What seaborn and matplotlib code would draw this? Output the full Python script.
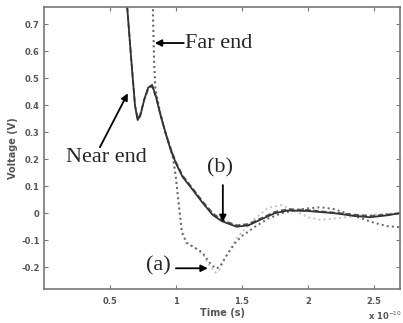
import matplotlib
matplotlib.use("Agg")
import matplotlib.pyplot as plt
import seaborn as sns
import pandas as pd

# near-end waveforms, case (b)  (time in units of 1e-10 s)
near_t = [0.60, 0.63, 0.66, 0.69, 0.71, 0.73, 0.76, 0.79, 0.82, 0.85, 0.88, 0.92, 0.96,
          1.00, 1.05, 1.13, 1.20, 1.28, 1.35, 1.46, 1.55, 1.65, 1.75, 1.85, 2.00, 2.20,
          2.35, 2.47, 2.60, 2.70]
near_sim = [0.92, 0.77, 0.58, 0.40, 0.345, 0.36, 0.42, 0.465, 0.475, 0.43, 0.37, 0.30, 0.235,
            0.185, 0.135, 0.085, 0.04, -0.007, -0.03, -0.05, -0.045, -0.022, 0.0, 0.01, 0.008, 0.0,
            -0.01, -0.015, -0.008, 0.0]
near_meas = [0.92, 0.77, 0.58, 0.40, 0.35, 0.365, 0.42, 0.46, 0.47, 0.43, 0.37, 0.30, 0.24,
             0.19, 0.14, 0.09, 0.045, 0.0, -0.025, -0.045, -0.04, -0.018, 0.005, 0.015, 0.012, 0.002,
             -0.005, -0.01, -0.005, 0.0]

# far-end waveforms, case (a)
far_t = [0.80, 0.825, 0.835, 0.845, 0.88, 0.92, 0.96, 0.98, 1.00, 1.02, 1.045, 1.08, 1.15,
         1.20, 1.25, 1.30, 1.33, 1.38, 1.45, 1.50, 1.60, 1.70, 1.80, 1.90, 2.00, 2.10, 2.20,
         2.35, 2.50, 2.60, 2.70]
far_sim = [0.95, 0.77, 0.56, 0.46, 0.375, 0.30, 0.24, 0.20, 0.13, 0.04, -0.07, -0.11, -0.13,
           -0.145, -0.18, -0.205, -0.20, -0.16, -0.11, -0.085, -0.05, -0.02, 0.0, 0.01, 0.018, 0.022, 0.015,
           -0.01, -0.035, -0.048, -0.052]
far_meas = [0.95, 0.77, 0.56, 0.46, 0.375, 0.30, 0.24, 0.20, 0.14, 0.05, -0.06, -0.105, -0.13,
            -0.15, -0.19, -0.22, -0.21, -0.16, -0.10, -0.07, -0.02, 0.02, 0.03, 0.01, -0.015, -0.025, -0.02,
            -0.012, -0.005, -0.002, 0.0]

xticks = [0.5, 1, 1.5, 2, 2.5]
xticklabels = ['0.5', '1', '1.5', '2', '2.5']
yticks = [-0.2, -0.1, 0, 0.1, 0.2, 0.3, 0.4, 0.5, 0.6, 0.7]
yticklabels = ['-0.2', '-0.1', '0', '0.1', '0.2', '0.3', '0.4', '0.5', '0.6', '0.7']

sns.set_style('ticks')
plt.rcParams['font.family'] = ['DejaVu Sans']

fig = plt.figure(figsize=(4.03, 3.23), dpi=100)
ax = fig.add_axes([0.109, 0.105, 0.884, 0.873])

near_df = pd.DataFrame({'t': near_t, 'sim': near_sim, 'meas': near_meas})
far_df = pd.DataFrame({'t': far_t, 'sim': far_sim, 'meas': far_meas})

# far end curves drawn first, near end on top
sns.lineplot(data=far_df, x='t', y='meas', ax=ax, color='#c4c4c4', lw=1.4, linestyle=':', sort=False)
sns.lineplot(data=far_df, x='t', y='sim', ax=ax, color='#666666', lw=1.4, linestyle=':', sort=False)
sns.lineplot(data=near_df, x='t', y='meas', ax=ax, color='#5a5a5a', lw=1.3, linestyle=(0, (3, 1.5)), sort=False)
sns.lineplot(data=near_df, x='t', y='sim', ax=ax, color='#333333', lw=1.3, sort=False)

ax.set_xlim(0, 2.7)
ax.set_ylim(-0.281, 0.763)
ax.set_xticks(xticks)
ax.set_xticklabels(xticklabels)
ax.set_yticks(yticks)
ax.set_yticklabels(yticklabels)
ax.tick_params(direction='in', length=3, width=0.8, colors='#777777', labelcolor='#555555',
               labelsize=6, top=True, right=True, pad=3)
ax.tick_params(axis='x', pad=6)
for lab in ax.get_xticklabels() + ax.get_yticklabels():
    lab.set_fontweight('bold')
for sp in ax.spines.values():
    sp.set_color('#777777')
    sp.set_linewidth(1.2)

ax.set_xlabel('Time (s)', fontsize=7, fontweight='bold', color='#555555', labelpad=1)
ax.set_ylabel('Voltage (V)', fontsize=7, fontweight='bold', color='#555555', labelpad=2)
fig.text(0.955, 0.008, r'x 10$^{-10}$', fontsize=6, fontweight='bold', color='#555555', ha='center')

# annotations
serif = 'Liberation Serif'
arrow = dict(arrowstyle='-|>', color='black', lw=1.3, mutation_scale=10, shrinkA=0, shrinkB=0)
ax.text(1.068, 0.63, 'Far end', fontsize=16, family=serif, va='center', ha='left')
ax.annotate('', xy=(0.84, 0.63), xytext=(1.06, 0.63), arrowprops=arrow)
ax.annotate('', xy=(0.636, 0.444), xytext=(0.424, 0.244), arrowprops=arrow)
ax.text(0.477, 0.205, 'Near end', fontsize=16, family=serif, ha='center', va='center')
ax.text(1.333, 0.167, '(b)', fontsize=16, family=serif, ha='center', va='center')
ax.annotate('', xy=(1.356, -0.033), xytext=(1.356, 0.104), arrowprops=arrow)
ax.text(0.871, -0.196, '(a)', fontsize=16, family=serif, ha='center', va='center')
ax.annotate('', xy=(1.242, -0.204), xytext=(1.0, -0.204), arrowprops=arrow)

fig.savefig('out.png', dpi=100)
